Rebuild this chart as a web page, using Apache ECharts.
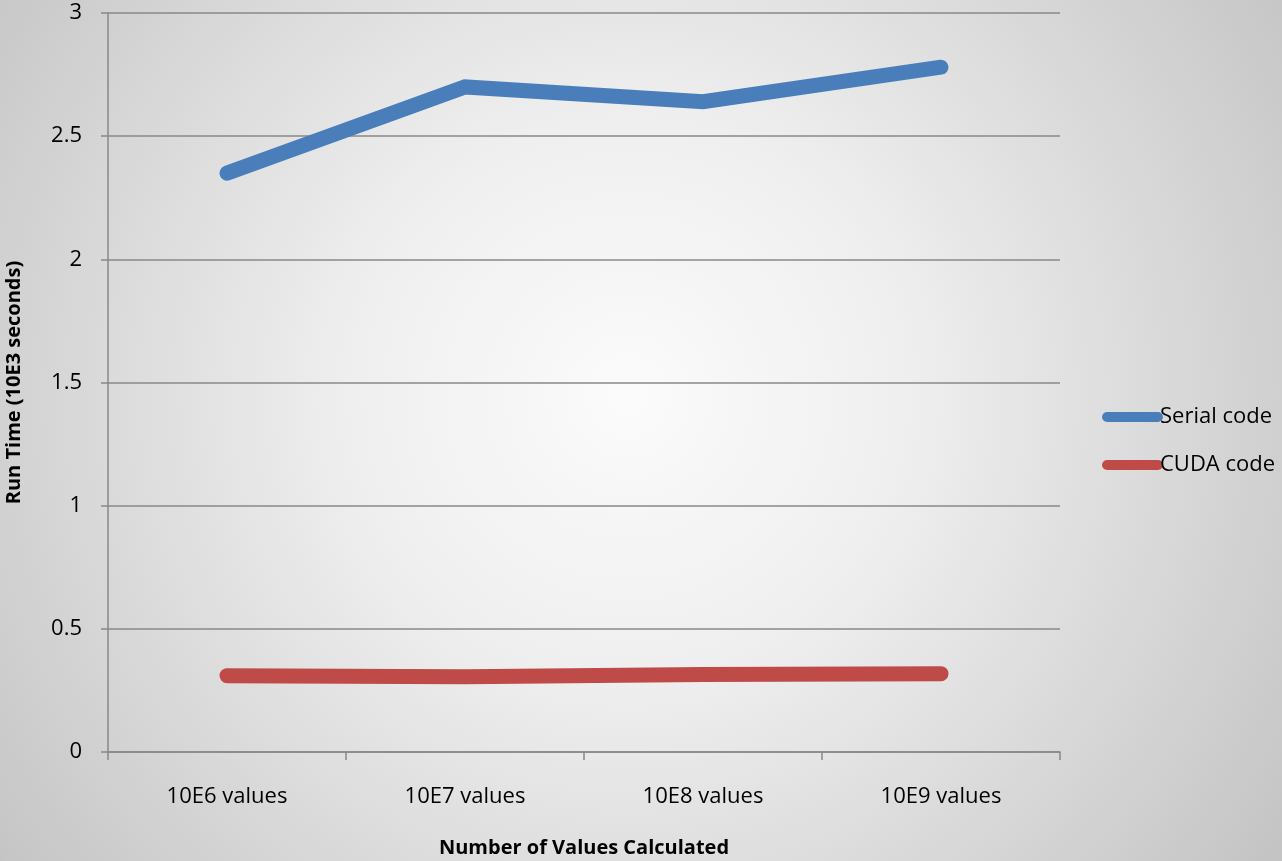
<!DOCTYPE html>
<html>
<head>
<meta charset="utf-8">
<script src="https://cdn.jsdelivr.net/npm/echarts@6/dist/echarts.min.js"></script>
<style>html,body{margin:0;padding:0;}#c{width:1282px;height:861px;}</style>
</head>
<body>
<div id="c"></div>
<script>
var categories = ['10E6 values', '10E7 values', '10E8 values', '10E9 values'];
var serialCode = [2.35, 2.70, 2.64, 2.78];
var cudaCode = [0.31, 0.305, 0.315, 0.318];
var yTicks = [0, 0.5, 1, 1.5, 2, 2.5, 3];

var FONT = '"Open Sans", sans-serif';
var capsule = 'path://M5,0 H55 A5,5 0 0 1 55,10 H5 A5,5 0 0 1 5,0 Z';
var chart = echarts.init(document.getElementById('c'));
chart.setOption({
  backgroundColor: {
    type: 'radial', x: 0.49, y: 0.46, r: 0.92,
    colorStops: [
      {offset: 0, color: '#fbfbfb'},
      {offset: 0.35, color: '#efefef'},
      {offset: 1, color: '#c4c4c4'}
    ]
  },
  animation: false,
  grid: {left: 108, right: 222, top: 13, bottom: 109, containLabel: false, outerBoundsMode: 'none'},
  legend: {
    orient: 'vertical', left: 1097, top: 401, itemWidth: 61, itemHeight: 11, itemGap: 26,
    icon: capsule,
    textStyle: {fontFamily: FONT, fontSize: 22, color: '#000', padding: [0, 0, 0, -8]},
    data: [
      {name: 'Serial code', itemStyle: {color: '#4a7ebb'}},
      {name: 'CUDA code', itemStyle: {color: '#be4b48'}}
    ]
  },
  xAxis: {
    type: 'category', data: categories, boundaryGap: true,
    name: 'Number of Values Calculated', nameLocation: 'middle', nameGap: 86,
    nameTextStyle: {fontFamily: FONT, fontSize: 20, fontWeight: 'bold', color: '#000'},
    axisLine: {lineStyle: {color: '#888', width: 1.5}},
    axisTick: {show: true, length: 8, alignWithLabel: false, lineStyle: {color: '#888', width: 1.5}},
    axisLabel: {fontFamily: FONT, fontSize: 22, color: '#000', margin: 34},
    splitLine: {show: false}
  },
  yAxis: {
    type: 'value', min: 0, max: 3, interval: 0.5,
    name: 'Run Time (10E3 seconds)', nameLocation: 'middle', nameGap: 84, nameRotate: 90,
    nameTextStyle: {fontFamily: FONT, fontSize: 20, fontWeight: 'bold', color: '#000'},
    axisLine: {show: true, lineStyle: {color: '#888', width: 1.5}},
    axisTick: {show: true, length: 7, lineStyle: {color: '#888', width: 1.5}},
    axisLabel: {fontFamily: FONT, fontSize: 22, color: '#000', margin: 26,
      formatter: function (v) { return yTicks.indexOf(v) >= 0 ? String(v) : ''; }},
    splitLine: {show: true, lineStyle: {color: '#888', width: 1.5}}
  },
  series: [
    {name: 'Serial code', type: 'line', data: serialCode, symbol: 'none',
      lineStyle: {color: '#4a7ebb', width: 15, cap: 'round', join: 'miter'}, itemStyle: {color: '#4a7ebb'}},
    {name: 'CUDA code', type: 'line', data: cudaCode, symbol: 'none',
      lineStyle: {color: '#be4b48', width: 15, cap: 'round', join: 'miter'}, itemStyle: {color: '#be4b48'}}
  ]
});
</script>
</body>
</html>
